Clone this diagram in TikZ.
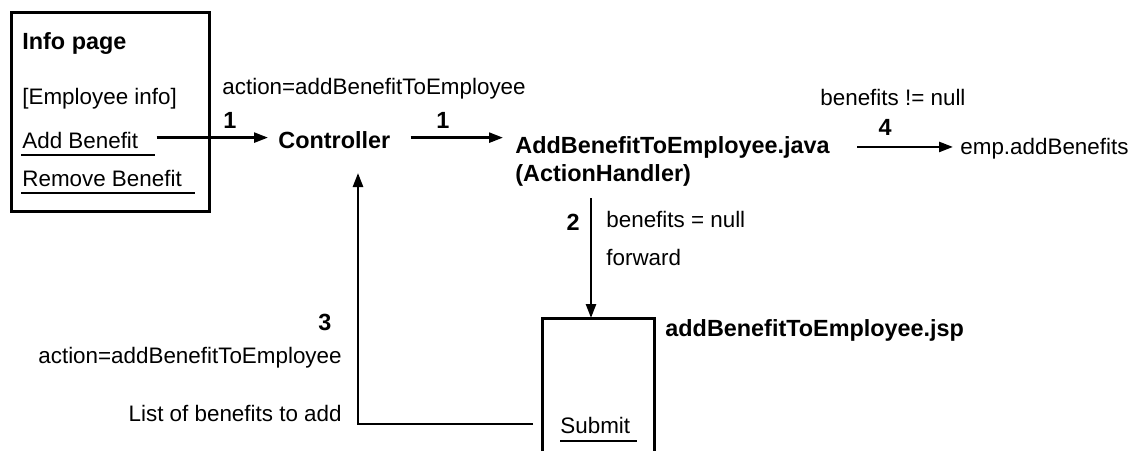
\documentclass[tikz,border=0pt]{standalone}
\usepackage{fontspec}
\setmainfont{Liberation Sans}
\usetikzlibrary{arrows.meta,calc}
\begin{document}
\begin{tikzpicture}[x=0.5pt,y=-0.5pt,
  txt/.style={anchor=base west,inner sep=0pt,font=\fontsize{11.2}{13}\selectfont},
  btxt/.style={txt,font=\fontsize{11.7}{14}\selectfont\bfseries},
  num/.style={anchor=base,inner sep=0pt,font=\fontsize{11.7}{14}\selectfont\bfseries},
  rtxt/.style={anchor=base east,inner sep=0pt,font=\fontsize{11.2}{13}\selectfont},
  boxline/.style={line width=1.5pt},
  uline/.style={line width=1pt},
  arr/.style={line width=1.25pt,-{Triangle[length=7pt,width=5pt]}}]
\useasboundingbox (0,0) rectangle (1135,451);
% Info page box
\coordinate (infonw) at (11,12);
\coordinate (infose) at (209,211);
\draw[boxline] (infonw) rectangle (infose);
\node[btxt] (infot) at (22,49) {Info page};
\node[txt] (empinfo) at (22,104) {[Employee info]};
\node[txt] (addb) at (22,148) {Add Benefit};
\node[txt] (remb) at (22,186) {Remove Benefit};
\draw[uline] (21,155) -- (155,155);
\draw[uline] (21,193) -- (195,193);
% Controller
\node[btxt] (ctrl) at (278,148) {Controller};
\node[txt] (act1) at (222,94) {action=addBenefitToEmployee};
\node[num] (n1a) at (230,128) {1};
\draw[arr,shorten <=9pt,shorten >=5pt] ([yshift=1.2pt]addb.east) -- ([yshift=1.2pt]addb.east -| ctrl.west);
% Action handler
\node[btxt] (abh) at (515,153) {AddBenefitToEmployee.java};
\node[btxt] (abh2) at (515,181) {(ActionHandler)};
\node[num] (n1b) at (443,128) {1};
\draw[arr,shorten <=10pt,shorten >=6pt] ([yshift=1pt]ctrl.east) -- ([yshift=1pt]ctrl.east -| abh.west);
% emp.addBenefits
\node[txt] (empadd) at (960,154) {emp.addBenefits};
\node[txt] (bnn) at (820,105) {benefits != null};
\node[num] (n4) at (885,135) {4};
\draw[arr,shorten <=13.5pt,shorten >=3.5pt] (abh.east) -- (abh.east -| empadd.west);
% JSP box
\coordinate (jspnw) at (542,318);
\coordinate (jspne) at (654,318);
\coordinate (jsptop) at (591,318);
\coordinate (jspsw) at (542,451);
\coordinate (jspse) at (654,451);
\draw[boxline] (jspsw) -- (jspnw) -- (jspne) -- (jspse);
\node[btxt] (jspname) at (665,336) {addBenefitToEmployee.jsp};
\node[txt] (submit) at (560,433) {Submit};
\draw[uline] (560,441) -- (637,441);
% arrow 2
\node[num] (n2) at (573,230) {2};
\node[txt] (bnull) at (606,227) {benefits = null};
\node[txt] (fwd) at (606,265) {forward};
\draw[arr,shorten <=6pt] (abh2.south -| jsptop) -- (jsptop);
% arrow 3 (feedback)
\coordinate (fbstart) at (533,424);
\coordinate (fbcorner) at (358,424);
\node[num] (n3) at (325,330) {3};
\node[rtxt] (act3) at (342,363) {action=addBenefitToEmployee};
\node[rtxt] (lob) at (342,421) {List of benefits to add};
\draw[arr,shorten >=12.5pt] (fbstart) -- (fbcorner) -- (fbcorner |- ctrl.base);
\end{tikzpicture}
\end{document}
